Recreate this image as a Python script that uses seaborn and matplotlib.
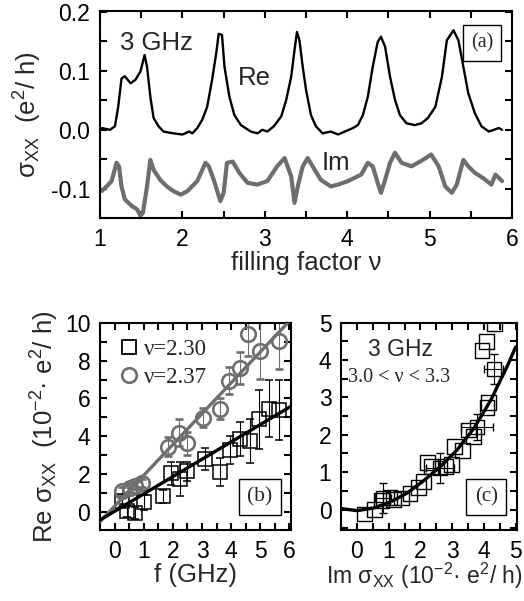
import matplotlib
matplotlib.use("Agg")
import matplotlib.pyplot as plt
from matplotlib.lines import Line2D
from matplotlib.ticker import MultipleLocator, FormatStrFormatter
import seaborn as sns

# (a) sigma_xx bij 3 GHz tegen vulfactor
nu_re = [1.02, 1.12, 1.18, 1.22, 1.26, 1.30, 1.37, 1.43, 1.49, 1.54, 1.57, 1.61, 1.65, 1.71, 1.77,
         1.89, 2.00, 2.08, 2.12, 2.18, 2.24, 2.30, 2.36, 2.41, 2.44, 2.48, 2.51, 2.57, 2.63, 2.71,
         2.83, 2.91, 2.97, 3.03, 3.11, 3.20, 3.26, 3.32, 3.36, 3.39, 3.42, 3.46, 3.50, 3.56, 3.62,
         3.70, 3.80, 3.89, 3.97, 4.07, 4.13, 4.19, 4.25, 4.31, 4.37, 4.41, 4.46, 4.52, 4.58, 4.64,
         4.72, 4.82, 4.90, 4.98, 5.07, 5.15, 5.21, 5.29, 5.35, 5.41, 5.47, 5.55, 5.63, 5.72, 5.78,
         5.84, 5.88]
re_a = [0.003, 0.000, 0.006, 0.039, 0.087, 0.091, 0.079, 0.085, 0.099, 0.127, 0.107, 0.056, 0.020, 0.006, -0.003,
        -0.006, -0.008, -0.003, -0.006, 0.003, 0.017, 0.039, 0.085, 0.130, 0.163, 0.161, 0.107, 0.056, 0.025, 0.008,
        -0.003, -0.006, 0.000, -0.003, 0.006, 0.023, 0.051, 0.090, 0.135, 0.166, 0.152, 0.107, 0.068, 0.025, 0.006,
        -0.006, -0.003, -0.008, -0.003, 0.003, 0.008, 0.025, 0.056, 0.107, 0.149, 0.158, 0.141, 0.090, 0.051, 0.025,
        0.011, 0.008, 0.011, 0.020, 0.039, 0.090, 0.152, 0.169, 0.152, 0.107, 0.062, 0.028, 0.006, -0.003, 0.000,
        0.003, 0.000]

nu_im = [1.02, 1.08, 1.14, 1.20, 1.23, 1.26, 1.30, 1.39, 1.45, 1.49, 1.52, 1.57, 1.61, 1.65, 1.73,
         1.81, 1.89, 1.98, 2.06, 2.18, 2.28, 2.32, 2.38, 2.46, 2.50, 2.54, 2.61, 2.69, 2.79, 2.91,
         3.03, 3.15, 3.24, 3.32, 3.36, 3.40, 3.46, 3.52, 3.58, 3.68, 3.80, 3.89, 4.01, 4.17, 4.25,
         4.31, 4.37, 4.41, 4.46, 4.52, 4.58, 4.66, 4.78, 4.92, 5.02, 5.11, 5.19, 5.27, 5.33, 5.41,
         5.47, 5.55, 5.65, 5.75, 5.80, 5.88]
im_a = [-0.104, -0.096, -0.087, -0.056, -0.062, -0.096, -0.118, -0.130, -0.135, -0.146, -0.141, -0.096, -0.051, -0.068, -0.085,
        -0.096, -0.104, -0.110, -0.104, -0.087, -0.056, -0.062, -0.085, -0.121, -0.107, -0.056, -0.054, -0.073, -0.090, -0.093,
        -0.087, -0.062, -0.048, -0.079, -0.124, -0.096, -0.062, -0.048, -0.062, -0.085, -0.096, -0.093, -0.087, -0.076, -0.056,
        -0.062, -0.090, -0.107, -0.085, -0.056, -0.039, -0.056, -0.062, -0.051, -0.042, -0.062, -0.096, -0.107, -0.093, -0.051,
        -0.062, -0.073, -0.082, -0.093, -0.076, -0.087]

# (b) Re sigma_xx tegen frequentie
f_230 = [0.24, 0.42, 0.71, 1.01, 1.67, 1.94, 2.23, 2.50, 3.10, 3.63, 3.96, 4.29, 4.64, 4.96, 5.30, 5.65]
re_230 = [0.57, 0.04, -0.05, 0.51, 0.83, 2.04, 1.75, 2.16, 2.81, 2.11, 3.27, 3.88, 3.75, 4.90, 5.47, 5.40]
err_230 = [0.3, 0.3, 0.3, 0.4, 0.35, 0.6, 0.9, 0.5, 0.6, 0.75, 0.75, 0.9, 1.15, 1.55, 1.5, 1.6]
f_237 = [0.24, 0.54, 0.71, 0.95, 1.82, 2.20, 2.50, 3.04, 3.63, 3.93, 4.29, 4.58, 5.00, 5.65]
re_237 = [1.10, 1.27, 1.40, 1.54, 3.45, 4.19, 3.63, 4.99, 5.47, 6.94, 7.59, 9.42, 8.53, 9.06]
err_237 = [0.2, 0.2, 0.2, 0.2, 0.5, 0.7, 0.6, 0.5, 0.55, 0.7, 0.85, 1.2, 1.5, 1.5]
fitline_f_230 = [-0.54, 6.07]
fitline_re_230 = [-0.45, 5.6]
fitline_f_237 = [-0.5, 5.95]
fitline_re_237 = [-0.5, 10.0]

# (c) Re tegen Im bij 3 GHz, 3.0 < nu < 3.3
im_c = [0.24, 0.56, 0.77, 1.04, 1.14, 1.41, 1.67, 1.93, 2.09, 2.22, 2.36, 2.78, 2.99, 3.08, 3.34,
        3.52, 3.68, 4.10, 4.15, 3.94, 4.07, 4.33]
re_c = [-0.12, 0.00, 0.24, 0.33, 0.27, 0.31, 0.44, 0.58, 0.74, 1.27, 1.15, 1.15, 1.20, 1.69, 1.57,
        2.13, 1.95, 2.73, 2.87, 4.26, 4.50, 4.97]
im_c_err = [0.82, 2.62, 3.78, 4.31]
re_c_err = [0.31, 1.11, 2.22, 3.77]
xerr_c = [0.25, 0.45, 0.5, 0.3]
yerr_c = [0.4, 0.4, 0.35, 0.4]
curve_im = [-0.54, 0.0, 0.52, 1.05, 1.58, 2.10, 2.63, 3.16, 3.69, 4.22, 4.75, 5.0]
curve_re = [0.03, -0.03, 0.04, 0.20, 0.44, 0.77, 1.15, 1.60, 2.18, 2.93, 3.86, 4.35]

GRAY = "#6e6e6e"
TICK = 16.5
LABEL = 18.5

sns.set_theme(style="ticks")
plt.rcParams["font.family"] = ["Liberation Sans", "DejaVu Sans"]
plt.rcParams["mathtext.default"] = "regular"
plt.rcParams["axes.unicode_minus"] = False
plt.rcParams["axes.linewidth"] = 1.5
serif = ["Liberation Serif", "DejaVu Serif"]

fig = plt.figure(figsize=(5.24, 6.01), dpi=100)
ax_a = fig.add_axes([0.191, 0.637, 0.786, 0.345])
ax_b = fig.add_axes([0.191, 0.118, 0.364, 0.345])
ax_c = fig.add_axes([0.651, 0.118, 0.336, 0.345])


def style_axes(ax, xmaj, xmin, ymaj, ymin):
    ax.xaxis.set_major_locator(MultipleLocator(xmaj))
    ax.xaxis.set_minor_locator(MultipleLocator(xmin))
    ax.yaxis.set_major_locator(MultipleLocator(ymaj))
    ax.yaxis.set_minor_locator(MultipleLocator(ymin))
    ax.tick_params(which="both", direction="in", top=True, right=True,
                   length=5, width=1.5, color="black")
    ax.tick_params(which="major", labelsize=TICK, pad=7, labelcolor="black")
    for s in ax.spines.values():
        s.set_color("black")
        s.set_linewidth(1.5)


# paneel (a)
sns.lineplot(x=nu_re, y=re_a, ax=ax_a, color="black", lw=1.7, sort=False, estimator=None)
sns.lineplot(x=nu_im, y=im_a, ax=ax_a, color=GRAY, lw=3.0, sort=False, estimator=None)
ax_a.set_xlim(1, 6)
ax_a.set_ylim(-0.15, 0.202)
style_axes(ax_a, 1, 0.5, 0.1, 0.05)
ax_a.yaxis.set_major_formatter(FormatStrFormatter("%.1f"))
ax_a.set_xlabel("filling factor ν", fontsize=LABEL, labelpad=0)
ax_a.set_ylabel(r"$\sigma_{XX}$  (e$^2$/ h)", fontsize=LABEL, labelpad=5)
ax_a.text(1.24, 0.147, "3 GHz", fontsize=LABEL, va="center", ha="left")
ax_a.text(2.67, 0.088, "Re", fontsize=LABEL, va="center", ha="left")
ax_a.text(3.69, -0.056, "Im", fontsize=LABEL, va="center", ha="left")
ax_a.text(0.927, 0.845, "(a)", transform=ax_a.transAxes, fontsize=14.5, family=serif,
          ha="center", va="center",
          bbox=dict(boxstyle="square,pad=0.4", fc="white", ec="black", lw=1))

# paneel (b)
ax_b.errorbar(f_230, re_230, yerr=err_230, fmt="s", ms=10.5, mfc="none", mec="black", mew=1.1,
              ecolor="black", elinewidth=0.8, capsize=3, capthick=0.8, zorder=2)
ax_b.errorbar(f_237, re_237, yerr=err_237, fmt="o", ms=10.5, mfc="none", mec=GRAY, mew=1.9,
              ecolor=GRAY, elinewidth=0.8, capsize=3, capthick=0.8, zorder=2)
sns.lineplot(x=fitline_f_237, y=fitline_re_237, ax=ax_b, color=GRAY, lw=2.4, zorder=3)
sns.lineplot(x=fitline_f_230, y=fitline_re_230, ax=ax_b, color="black", lw=2.4, zorder=4)
ax_b.set_xlim(-0.5, 6.05)
ax_b.set_ylim(-0.95, 10)
style_axes(ax_b, 1, 0.5, 2, 1)
ax_b.set_xlabel("f (GHz)", fontsize=LABEL, labelpad=0)
ax_b.set_ylabel(r"Re $\sigma_{XX}$  (10$^{-2}$· e$^2$/ h)", fontsize=LABEL, labelpad=3)
handles = [
    Line2D([], [], ls="none", marker="s", ms=10.5, mfc="none", mec="black", mew=1.3),
    Line2D([], [], ls="none", marker="o", ms=10.5, mfc="none", mec=GRAY, mew=1.9),
]
ax_b.legend(handles, ["ν=2.30", "ν=2.37"], loc="upper left", bbox_to_anchor=(0.09, 0.92),
            frameon=False, prop={"family": serif, "size": 16.5}, handlelength=1.0,
            handletextpad=0.15, borderpad=0, borderaxespad=0, labelspacing=0.3)
ax_b.text(0.838, 0.16, "(b)", transform=ax_b.transAxes, fontsize=15.5, family=serif,
          ha="center", va="center",
          bbox=dict(boxstyle="square,pad=0.4", fc="white", ec="black", lw=1))

# paneel (c)
sns.scatterplot(x=im_c, y=re_c, ax=ax_c, marker="s", s=115, facecolor="none",
                edgecolor="black", linewidth=1.0, zorder=2)
ax_c.errorbar(im_c_err, re_c_err, xerr=xerr_c, yerr=yerr_c, fmt="s", ms=10.5, mfc="none",
              mec="black", mew=1.0, ecolor="black", elinewidth=0.8, capsize=3,
              capthick=0.8, zorder=2)
sns.lineplot(x=curve_im, y=curve_re, ax=ax_c, color="black", lw=2.4, sort=False,
             estimator=None, zorder=4)
ax_c.set_xlim(-0.5, 5.05)
ax_c.set_ylim(-0.55, 5)
style_axes(ax_c, 1, 0.5, 1, 0.5)
ax_c.set_xlabel(r"Im $\sigma_{XX}$ (10$^{-2}$· e$^2$/ h)", fontsize=16.5, labelpad=0)
ax_c.xaxis.set_label_coords(0.47, -0.15)
ax_c.text(0.36, 4.28, "3 GHz", fontsize=16.5, va="center", ha="left")
ax_c.text(-0.27, 3.54, "3.0 < ν < 3.3", fontsize=14.5, family=serif, va="center", ha="left")
ax_c.text(0.824, 0.16, "(c)", transform=ax_c.transAxes, fontsize=15, family=serif,
          ha="center", va="center",
          bbox=dict(boxstyle="square,pad=0.4", fc="white", ec="black", lw=1))

fig.savefig("out.png", dpi=100, facecolor="white")
